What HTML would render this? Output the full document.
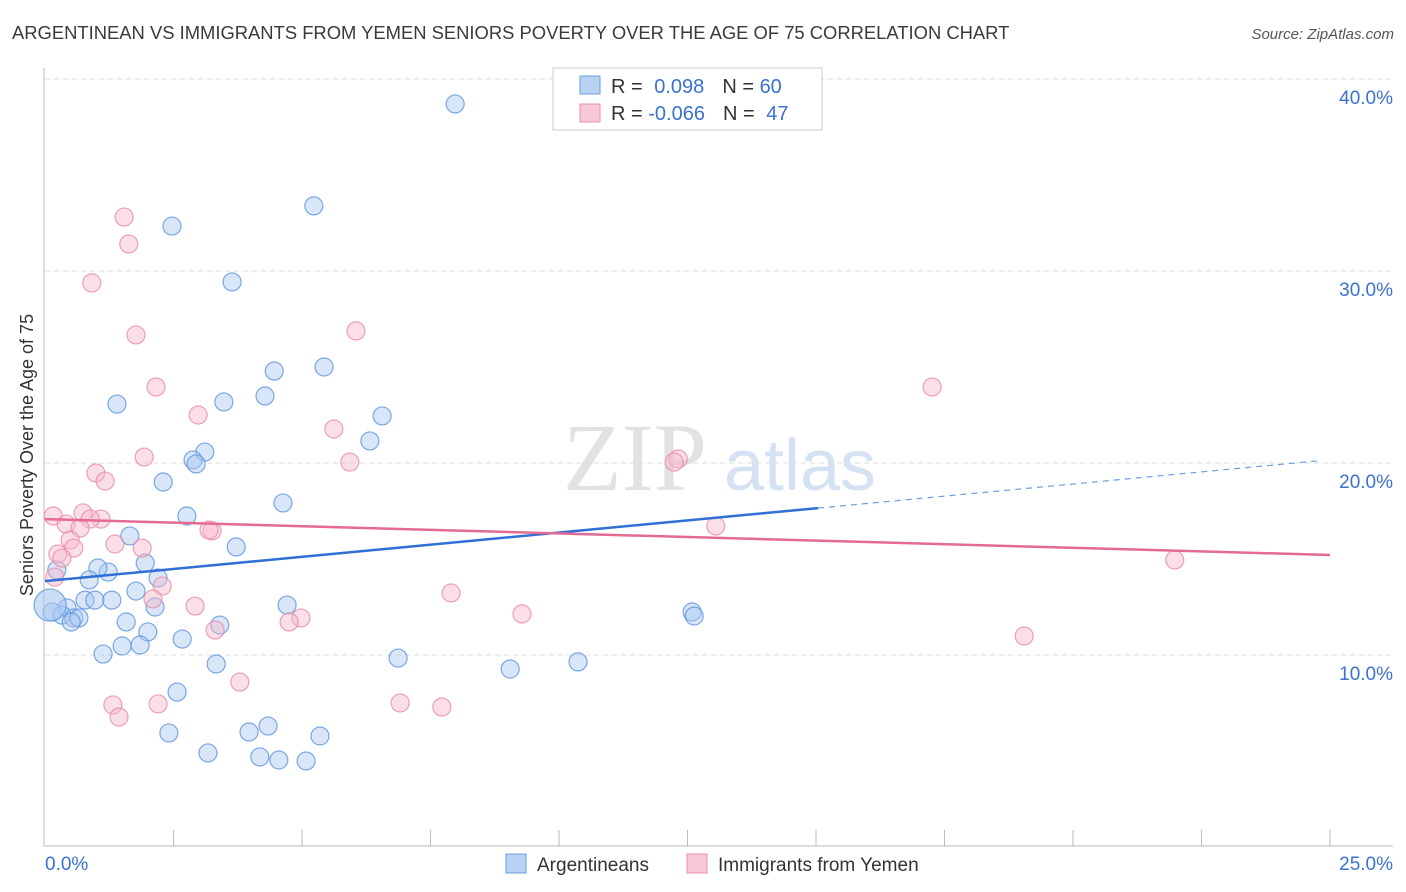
<!DOCTYPE html>
<html><head><meta charset="utf-8"><style>
body{margin:0;background:#fff;font-family:"Liberation Sans",sans-serif}
svg{display:block}
</style></head><body>
<svg width="1406" height="892">
<text x="12" y="39" font-size="18.4" fill="#3a3a3a">ARGENTINEAN VS IMMIGRANTS FROM YEMEN SENIORS POVERTY OVER THE AGE OF 75 CORRELATION CHART</text>
<text x="1394" y="39" font-size="15" fill="#555" font-style="italic" text-anchor="end">Source: ZipAtlas.com</text>
<g><text x="635" y="490" font-size="96" fill="#e2e2e2" font-family="Liberation Serif" text-anchor="middle">ZIP</text><text x="800" y="490" font-size="72" fill="#d4e2f4" text-anchor="middle">atlas</text></g>
<g id="grid"></g><g id="axes"></g><g id="pts"></g><g id="lines"></g>
<text transform="translate(33,455) rotate(-90)" font-size="18" fill="#333" text-anchor="middle">Seniors Poverty Over the Age of 75</text>
<g>
<rect x="553" y="68" width="269" height="62" fill="#fff" stroke="#ccc"/>
<rect x="580" y="76" width="20" height="18" fill="#b8d2f2" stroke="#6a9ee0"/>
<rect x="580" y="104" width="20" height="18" fill="#f8c8d6" stroke="#eb8fab"/>
<text x="611" y="93" font-size="20" fill="#333">R = <tspan fill="#3a72d0" dx="6">0.098</tspan><tspan dx="18">N = </tspan><tspan fill="#3a72d0">60</tspan></text>
<text x="611" y="120" font-size="20" fill="#333">R = <tspan fill="#3a72d0">-0.066</tspan><tspan dx="18">N = </tspan><tspan fill="#3a72d0" dx="6">47</tspan></text>
</g>
<g>
<rect x="506" y="854" width="20" height="19" fill="#b8d2f2" stroke="#6a9ee0"/>
<text x="537" y="871" font-size="19" fill="#333">Argentineans</text>
<rect x="687" y="854" width="20" height="19" fill="#f8c8d6" stroke="#eb8fab"/>
<text x="718" y="871" font-size="19" fill="#333">Immigrants from Yemen</text>
</g>
</svg>
<script>
const yTicks=[10,20,30,40];
const xTickLabels=["0.0%","25.0%"];
const blueX=[7.98,5.23,2.47,3.64,4.46,5.43,1.40,3.48,4.28,6.56,6.32,3.11,2.88,2.94,2.30,4.63,2.76,1.65,3.72,1.95,1.23,0.23,1.03,0.86,2.20,1.77,0.78,0.97,1.30,2.14,4.71,0.43,0.14,0.33,0.56,0.66,0.51,1.58,3.40,2.00,2.67,1.50,1.85,1.13,6.87,10.37,3.33,9.05,2.57,4.34,3.97,2.41,5.35,3.17,4.18,4.55,5.08,12.59,12.63,0.10];
const blueY=[38.70,33.39,32.34,29.43,24.79,25.0,23.07,23.18,23.49,22.45,21.15,20.57,20.16,19.95,19.01,17.92,17.24,16.20,15.63,14.79,14.32,14.43,14.53,13.91,14.01,13.33,12.86,12.86,12.86,12.50,12.60,12.45,12.24,12.08,11.93,11.93,11.72,11.72,11.56,11.20,10.83,10.47,10.52,10.05,9.84,9.64,9.53,9.27,8.07,6.30,5.99,5.94,5.78,4.90,4.69,4.53,4.48,12.24,12.03,12.60];
const pinkX=[1.54,1.63,0.91,1.77,6.05,2.16,2.98,5.62,17.26,1.93,5.93,12.32,12.24,0.99,1.17,0.16,0.74,1.09,0.88,0.41,0.68,3.25,13.05,0.49,1.36,0.56,1.89,0.25,0.33,0.19,2.28,2.10,2.92,7.90,9.28,4.98,4.75,3.31,21.98,19.05,3.79,1.32,2.20,6.91,7.72,1.44,3.19];
const pinkY=[32.81,31.41,29.38,26.67,26.88,23.96,22.50,21.77,23.96,20.31,20.05,20.21,20.05,19.48,19.06,17.24,17.40,17.08,17.08,16.82,16.61,16.46,16.72,15.99,15.78,15.57,15.57,15.26,15.05,14.06,13.59,12.92,12.55,13.23,12.14,11.93,11.72,11.30,14.95,10.99,8.59,7.40,7.45,7.50,7.29,6.77,16.51];
const blueTrend=[13.85,20.17], blueSolidEnd=15.04;
const pinkTrend=[17.08,15.21];
const X=v=>45+v/25*1285, Y=v=>847-v*19.2;
const NS="http://www.w3.org/2000/svg";
function mk(p,t,a){const e=document.createElementNS(NS,t);for(const k in a)e.setAttribute(k,a[k]);p.appendChild(e);return e;}
const grid=document.getElementById('grid'),axes=document.getElementById('axes'),pts=document.getElementById('pts'),lines=document.getElementById('lines');
yTicks.forEach(t=>{const l=mk(grid,'line',{x1:45,x2:1393,y1:Y(t),y2:Y(t),stroke:'#ddd','stroke-dasharray':'5,4'});


const tx=mk(grid,'text',{x:1393,y:Y(t)+25,'font-size':19,fill:'#3a72d0','text-anchor':'end'});tx.textContent=t.toFixed(1)+'%';

});
const ax=mk(axes,'line',{x1:44,x2:44,y1:68,y2:846,stroke:'#bbb'});


const bx=mk(axes,'line',{x1:44,x2:1393,y1:846,y2:846,stroke:'#bbb'});


for(let i=1;i<=10;i++){const t=mk(axes,'line',{x1:X(i*2.5),x2:X(i*2.5),y1:830,y2:846,stroke:'#bbb'});

}
const xl0=mk(axes,'text',{x:45,y:870,'font-size':19,fill:'#3a72d0'});xl0.textContent=xTickLabels[0];


const xl1=mk(axes,'text',{x:1393,y:870,'font-size':19,fill:'#3a72d0','text-anchor':'end'});xl1.textContent=xTickLabels[1];


function dots(xs,ys,fill,stroke,name){xs.forEach((x,i)=>{const big=(name==='argentinean-point'&&i===xs.length-1);
const c=mk(pts,'circle',{cx:X(x),cy:Y(ys[i]),r:big?16:9,fill:fill,'fill-opacity':big?0.6:0.45,stroke:stroke,'stroke-opacity':0.8,'stroke-width':1.2});

});}
dots(blueX,blueY,'#a9c8f0','#5b93de','argentinean-point');
dots(pinkX,pinkY,'#f6b8cb','#e98aa7','yemen-point');
const bt=v=>blueTrend[0]+(blueTrend[1]-blueTrend[0])*v/25;
const l1=mk(lines,'line',{x1:X(0),y1:Y(bt(0)),x2:X(blueSolidEnd),y2:Y(bt(blueSolidEnd)),stroke:'#2f6fd6','stroke-width':2.5});


const l2=mk(lines,'line',{x1:X(blueSolidEnd),y1:Y(bt(blueSolidEnd)),x2:X(24.8),y2:Y(bt(24.8)),stroke:'#6a9ee0','stroke-width':1.2,'stroke-dasharray':'6,5'});


const l3=mk(lines,'line',{x1:X(0),y1:Y(pinkTrend[0]),x2:X(25),y2:Y(pinkTrend[1]),stroke:'#e56a94','stroke-width':2.5});


</script>
</body></html>
